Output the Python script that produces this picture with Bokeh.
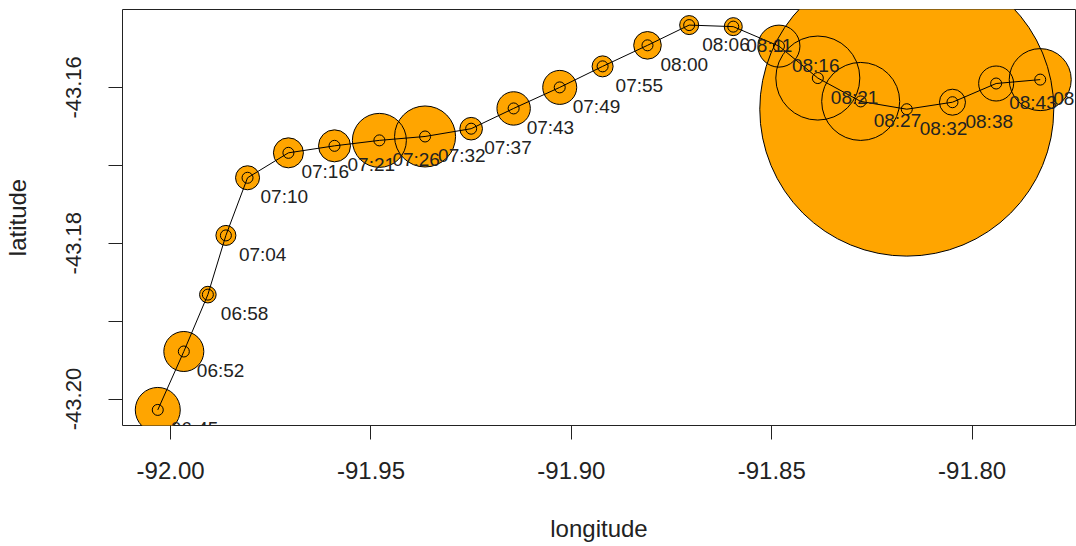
from bokeh.plotting import figure
from bokeh.models import ColumnDataSource, FixedTicker, PrintfTickFormatter, Range1d
from bokeh.core.properties import value
from bokeh.embed import file_html
from bokeh.resources import INLINE

# ---- data ----
times = ["06:45", "06:52", "06:58", "07:04", "07:10", "07:16", "07:21", "07:26",
         "07:32", "07:37", "07:43", "07:49", "07:55", "08:00", "08:06", "08:11",
         "08:16", "08:21", "08:27", "08:32", "08:38", "08:43", "08:49"]
lon = [-92.0032, -91.9967, -91.9907, -91.9862, -91.9808, -91.9706, -91.9591, -91.9479,
       -91.9365, -91.9250, -91.9144, -91.9029, -91.8922, -91.8810, -91.8706, -91.8596,
       -91.8482, -91.8385, -91.8278, -91.8163, -91.8049, -91.7940, -91.7830]
lat = [-43.2014, -43.1939, -43.1866, -43.1790, -43.1716, -43.1684, -43.1675, -43.1668,
       -43.1663, -43.1653, -43.1627, -43.1600, -43.1573, -43.1546, -43.1520, -43.1522,
       -43.1547, -43.1588, -43.1618, -43.1628, -43.1619, -43.1595, -43.1590]
bubble = [22.5, 20.0, 8.3, 10.0, 12.0, 15.0, 16.0, 27.0,
          30.5, 11.3, 16.7, 17.0, 10.5, 13.8, 9.5, 9.0,
          21.0, 42.0, 39.0, 147.0, 13.0, 17.5, 31.0]
x_ticks = [-92.00, -91.95, -91.90, -91.85, -91.80]
y_ticks = [-43.20, -43.18, -43.16]
y_minor = [-43.19, -43.17]

BUBBLE_SCALE = 2.0  # bubble value -> marker diameter in screen px
FONT = "Liberation Sans"
INK = "#222222"

src = ColumnDataSource(dict(lon=lon, lat=lat, t=times,
                            d=[b * BUBBLE_SCALE for b in bubble]))

p = figure(width=1076, height=546, output_backend="svg", toolbar_location=None,
           x_range=Range1d(-92.0120, -91.7742), y_range=Range1d(-43.2034, -43.1500),
           min_border_left=120, min_border_right=1, min_border_top=9,
           min_border_bottom=121,
           x_axis_label="longitude", y_axis_label="latitude")

p.grid.visible = False
p.outline_line_color = INK
p.outline_line_width = 1
p.background_fill_color = "white"
p.border_fill_color = "white"

# bubbles: fills first, then all outlines
p.scatter("lon", "lat", size="d", source=src, marker="circle",
          fill_color="#FFA500", line_color=None)
p.scatter("lon", "lat", size="d", source=src, marker="circle",
          fill_color=None, line_color="black", line_width=1)
# track
p.line("lon", "lat", source=src, line_color="black", line_width=1)
# open point markers
p.scatter("lon", "lat", size=11, source=src, marker="circle",
          fill_color=None, line_color="black", line_width=1)
# time labels
p.text("lon", "lat", text="t", source=src, x_offset=13, y_offset=19,
       text_font=value(FONT), text_font_size="19px", text_color=INK,
       text_align="left", text_baseline="middle")

# axes
p.xaxis.ticker = FixedTicker(ticks=x_ticks, minor_ticks=[])
p.yaxis.ticker = FixedTicker(ticks=y_ticks, minor_ticks=y_minor)
p.xaxis.formatter = PrintfTickFormatter(format="%.2f")
p.yaxis.formatter = PrintfTickFormatter(format="%.2f")

for ax in (p.xaxis, p.yaxis):
    ax.axis_line_color = None
    ax.major_tick_in = 0
    ax.major_tick_out = 14
    ax.minor_tick_in = 0
    ax.minor_tick_out = 14
    ax.major_tick_line_color = INK
    ax.minor_tick_line_color = INK
    ax.major_label_text_font = FONT
    ax.major_label_text_color = INK
    ax.axis_label_text_font = FONT
    ax.axis_label_text_font_style = "normal"
    ax.axis_label_text_font_size = "24px"
    ax.axis_label_text_color = INK

p.xaxis.minor_tick_line_color = None
p.xaxis.major_label_text_font_size = "24px"
p.xaxis.major_label_standoff = 22
p.xaxis.axis_label_standoff = 33

p.yaxis.major_label_text_font_size = "22px"
p.yaxis.major_label_orientation = "parallel"
p.yaxis.major_label_standoff = 27
p.yaxis.axis_label_standoff = 33

open("out.html", "w").write(file_html(p, INLINE))
